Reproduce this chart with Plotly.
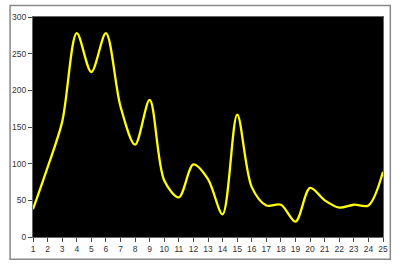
import plotly.graph_objects as go

categories = list(range(1, 26))
values = [38, 95, 157, 278, 225, 278, 178, 126, 187, 77, 54, 99, 79, 31, 167,
          68, 43, 44, 21, 67, 50, 40, 44, 43, 89]
y_ticks = [0, 50, 100, 150, 200, 250, 300]

fig = go.Figure()
fig.add_trace(go.Scatter(
    x=categories, y=values, mode="lines",
    line=dict(color="#FFFF00", width=2.3, shape="spline", smoothing=0.9),
    hoverinfo="skip",
))

W, H = 400, 275
L, R, T, B = 27, 14, 15, 38
pw, ph = W - L - R, H - T - B

def px_x(p):
    return (p - L) / pw

def px_y(p):
    return (H - B - p) / ph

fig.update_layout(
    width=W, height=H,
    margin=dict(l=L, r=R, t=T, b=B),
    paper_bgcolor="white", plot_bgcolor="black",
    showlegend=False,
    font=dict(family="Arial, Liberation Sans", size=8.5, color="#333"),
    xaxis=dict(
        range=[1, 25], tickvals=categories, ticktext=[str(c) for c in categories],
        ticks="outside", ticklen=4, tickcolor="#444", showgrid=False, zeroline=False,
        showline=True, linecolor="#666", linewidth=1, mirror=True,
        tickfont=dict(size=8.5, color="#333"), fixedrange=True,
    ),
    yaxis=dict(
        range=[0, 300], tickvals=y_ticks, ticks="outside", ticklen=4, tickcolor="#444",
        showgrid=False, zeroline=False, showline=True, linecolor="#666", linewidth=1,
        mirror=True, tickfont=dict(size=8.5, color="#333"), fixedrange=True,
    ),
    shapes=[dict(
        type="rect", xref="paper", yref="paper",
        x0=px_x(3.5), x1=px_x(393.5), y0=px_y(259.5), y1=px_y(3.5),
        line=dict(color="#888", width=1.5), fillcolor="rgba(0,0,0,0)", layer="below",
    )],
)

fig.write_html("out.html", config=dict(displayModeBar=False))
